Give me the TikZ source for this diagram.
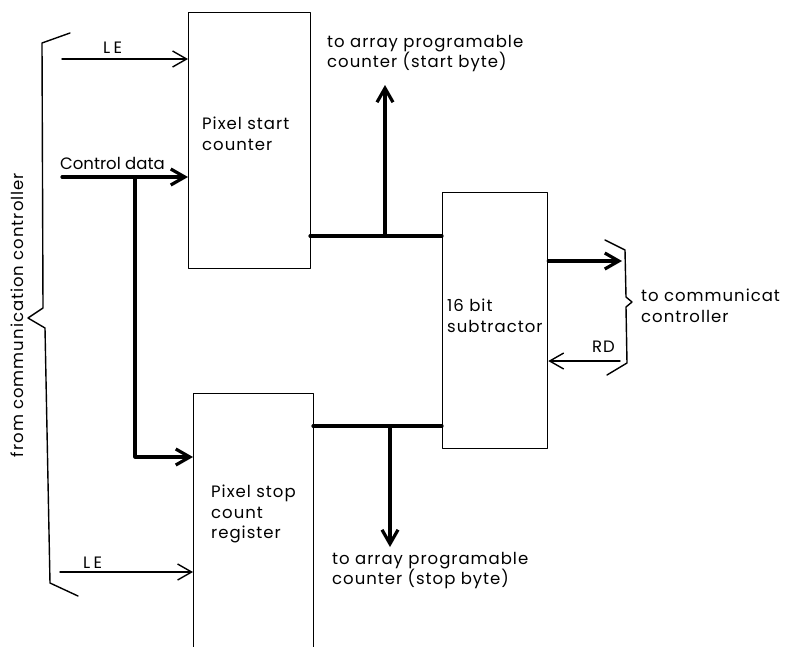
\documentclass[tikz,border=0pt]{standalone}
\usepackage{fontspec}
\newfontfamily\letterfont[LetterSpace=6]{Poppins}
\newfontfamily\tightfont[LetterSpace=0]{Poppins}
\newfontfamily\widefont[LetterSpace=20]{Poppins}
\usetikzlibrary{arrows.meta,positioning}
\tikzset{
    every picture/.style={line cap=round,line join=round},
    blockbox/.style={draw=black,line width=1.3pt,anchor=north west,inner sep=0pt},
    sigline/.style={-{Straight Barb[length=14pt,width=16pt]},line width=1.4pt},
    busline/.style={line width=3.2pt},
    busarrow/.style={busline,-{Straight Barb[length=14pt,width=16pt]}},
    bracket/.style={line width=1.4pt},
    lettering/.style={font=\letterfont\fontsize{16.5}{20.5}\selectfont,
      inner sep=0pt,align=left},
    tightlettering/.style={lettering,font=\tightfont\fontsize{16.5}{20.5}\selectfont},
    widelettering/.style={lettering,font=\widefont\fontsize{16.5}{20.5}\selectfont}
}
\begin{document}
\begin{tikzpicture}[x=1pt,y=-1pt]
  \useasboundingbox (0,0) rectangle (787,646);
  \clip (0,0) rectangle (787,646);
  % blocks
  \node[blockbox,minimum width=122pt,minimum height=256pt] (start) at (188,12) {};
  \node[blockbox,minimum width=120pt,minimum height=280pt] (stop) at (193,393) {};
  \node[blockbox,minimum width=105pt,minimum height=256pt] (sub) at (442,192) {};
  \node[lettering,anchor=north west] (starttxt) at (202,117) {Pixel start\\counter};
  \node[lettering,anchor=north west] (stoptxt) at (211,485) {Pixel stop\\count\\register};
  \node[lettering,anchor=north west] (subtxt) at (447,299) {16 bit\\subtractor};

  % inputs from the left
  \coordinate (leA) at (62,59);
  \coordinate (ctl) at (62,177);
  \coordinate (tap) at (135,177);
  \coordinate (leB) at (60,572);
  \draw[sigline] (leA) -- (leA -| start.west);
  \draw[busarrow] (ctl) -- (ctl -| start.west);
  \draw[busarrow] (tap) |- ([yshift=-64pt]stop.north west);
  \draw[sigline] (leB) -- (leB -| stop.west);
  \node[widelettering,anchor=base west] (leAlbl) at (103,53) {LE};
  \node[tightlettering,anchor=base west] (ctllbl) at (60,169) {Control data};
  \node[widelettering,anchor=base west] (leBlbl) at (83,568) {LE};
  \draw[bracket] (70,33) -- (42,43) -- (43,308) -- (28,318) -- (45,328)
    -- (50,583) -- (78,596);
  \node[lettering,rotate=90] (fromlbl) at (17,315) {from communication controller};

  % outputs of the two counters
  \coordinate (busA) at (310,236);
  \coordinate (upA) at (385,236);
  \coordinate (upEnd) at (385,85);
  \draw[busline] (busA) -- (busA -| sub.west);
  \draw[busarrow] (upA) -- (upEnd);
  \node[lettering,anchor=north west] (startlbl) at (327,35)
    {to array programable\\counter (start byte)};
  \coordinate (busB) at (313,426);
  \coordinate (dnB) at (390,426);
  \coordinate (dnEnd) at (390,547);
  \draw[busline] (busB) -- (busB -| sub.west);
  \draw[busarrow] (dnB) -- (dnEnd);
  \node[lettering,anchor=north west] (stoplbl) at (332,552)
    {to array programable\\counter (stop byte)};

  % subtractor to communication controller
  \coordinate (outEnd) at (622,261);
  \coordinate (rdS) at (620,361);
  \draw[busarrow] (outEnd -| sub.east) -- (outEnd);
  \draw[sigline] (rdS) -- (rdS -| sub.east);
  \node[lettering,anchor=base west] (rdlbl) at (592,352) {RD};
  \draw[bracket] (605,240) -- (625,250) -- (626,297) -- (632,302) -- (626,307)
    -- (627,363) -- (607,375);
  \node[lettering,anchor=north west] (commlbl) at (641,289)
    {to communicat\\controller};
\end{tikzpicture}
\end{document}
